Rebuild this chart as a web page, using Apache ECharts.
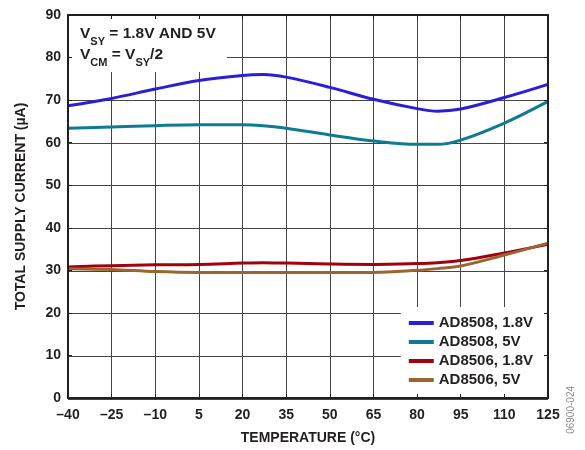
<!DOCTYPE html>
<html><head><meta charset="utf-8">
<script src="https://cdn.jsdelivr.net/npm/echarts@6/dist/echarts.min.js"></script>
<style>html,body{margin:0;padding:0;background:#fff}#c{width:585px;height:450px}</style>
</head><body><div id="c"></div>
<script>
// ---- data ----
const temps = [-40, -25, -10, 5, 20, 27, 35, 50, 65, 80, 87, 95, 110, 125];
const ad8508_18 = [68.7, 70.4, 72.6, 74.6, 75.8, 76.0, 75.4, 73.0, 70.2, 68.0, 67.4, 67.9, 70.6, 73.7];
const ad8508_5  = [63.4, 63.7, 64.0, 64.2, 64.2, 64.0, 63.4, 61.8, 60.4, 59.6, 59.6, 60.6, 64.6, 69.7];
const ad8506_18 = [30.8, 31.1, 31.3, 31.4, 31.7, 31.8, 31.7, 31.5, 31.4, 31.6, 31.8, 32.3, 34.1, 36.1];
const ad8506_5  = [30.4, 30.2, 29.7, 29.5, 29.5, 29.5, 29.5, 29.5, 29.5, 30.0, 30.4, 31.0, 33.6, 36.4];
const seriesNames = ['AD8508, 1.8V', 'AD8508, 5V', 'AD8506, 1.8V', 'AD8506, 5V'];
const seriesValues = [ad8508_18, ad8508_5, ad8506_18, ad8506_5];
const xMin = -40, xMax = 125, xStep = 15;
const yMin = 0, yMax = 90, yStep = 10;
const xTitle = 'TEMPERATURE (°C)';
const yTitle = 'TOTAL SUPPLY CURRENT (µA)';
const noteId = '06900-024';

// ---- styles ----
const colors = ['#2a1fd6', '#0e7b93', '#a1000f', '#9b6531'];
const font = 'Arial, "Liberation Sans", Helvetica, sans-serif';
const ink = '#231f20';
const gridPos = { left: 68, right: 37, top: 15, bottom: 51 };

const chart = echarts.init(document.getElementById('c'));
const fmtX = v => String(v).replace('-', '\u2013');
const frameLine = { show: true, onZero: false, lineStyle: { color: ink, width: 2 } };
const frameTick = { show: true, inside: true, length: 4, lineStyle: { color: ink, width: 1 } };
const labelStyle = { color: ink, fontWeight: 'bold', fontSize: 14, fontFamily: font };

function xa(extra) { return Object.assign({ type: 'value', min: xMin, max: xMax, interval: xStep }, extra); }
function ya(extra) { return Object.assign({ type: 'value', min: yMin, max: yMax, interval: yStep }, extra); }

const option = {
  animation: false,
  backgroundColor: '#fff',
  grid: [Object.assign({}, gridPos), Object.assign({}, gridPos)],
  xAxis: [
    xa({ gridIndex: 0, position: 'bottom', z: 10, axisLine: frameLine, axisTick: frameTick,
         axisLabel: Object.assign({ formatter: fmtX, margin: 10 }, labelStyle), splitLine: { show: false },
         name: xTitle, nameLocation: 'middle', nameGap: 33, nameTextStyle: labelStyle }),
    xa({ gridIndex: 0, position: 'top', z: 10, axisLine: frameLine, axisTick: frameTick,
         axisLabel: { show: false }, splitLine: { show: false } }),
    xa({ gridIndex: 1, position: 'bottom', z: 0, axisLine: { show: false, onZero: false }, axisTick: { show: false },
         axisLabel: { show: false }, splitLine: { show: true, lineStyle: { color: '#444', width: 1 } } })
  ],
  yAxis: [
    ya({ gridIndex: 0, position: 'left', z: 10, axisLine: frameLine, axisTick: frameTick,
         axisLabel: Object.assign({ margin: 7 }, labelStyle), splitLine: { show: false },
         name: yTitle, nameLocation: 'middle', nameGap: 40, nameTextStyle: labelStyle }),
    ya({ gridIndex: 0, position: 'right', z: 10, axisLine: frameLine, axisTick: frameTick,
         axisLabel: { show: false }, splitLine: { show: false } }),
    ya({ gridIndex: 1, position: 'left', z: 0, axisLine: { show: false, onZero: false }, axisTick: { show: false },
         axisLabel: { show: false }, splitLine: { show: true, lineStyle: { color: '#444', width: 1 } } })
  ],
  legend: {
    orient: 'vertical', right: 38, bottom: 55,
    backgroundColor: '#fff', padding: [8, 14, 7, 8],
    icon: 'rect', itemWidth: 25, itemHeight: 4, itemGap: 3,
    textStyle: { color: ink, fontWeight: 'bold', fontSize: 15, fontFamily: font, lineHeight: 16 },
    data: seriesNames
  },
  graphic: [
    { type: 'rect', left: 69, top: 16, z: 3, shape: { width: 158, height: 56 }, style: { fill: '#fff' } },
    { type: 'text', left: 80, top: 26, z: 4,
      style: {
        text: '{m|V}{s|SY}{m| = 1.8V AND 5V}\n{m|V}{s|CM}{m| = V}{s|SY}{m|/2}',
        rich: {
          m: { fontSize: 15.5, fontWeight: 'bold', fontFamily: font, fill: ink, lineHeight: 21, verticalAlign: 'top' },
          s: { fontSize: 11, fontWeight: 'bold', fontFamily: font, fill: ink, lineHeight: 11, padding: [10, 0, 0, 0], verticalAlign: 'top' }
        }
      } },
    { type: 'text', left: 566, top: 386, rotation: Math.PI / 2, z: 5,
      style: { text: noteId, fontSize: 10, fontFamily: font, fill: '#8a8a8a' } }
  ],
  series: seriesNames.map((name, i) => ({
    name: name, type: 'line', xAxisIndex: 0, yAxisIndex: 0,
    data: temps.map((t, k) => [t, seriesValues[i][k]]),
    smooth: 0.35, showSymbol: false, symbol: 'none',
    lineStyle: { color: colors[i], width: 3 }, itemStyle: { color: colors[i] }
  }))
};
chart.setOption(option);
</script></body></html>
